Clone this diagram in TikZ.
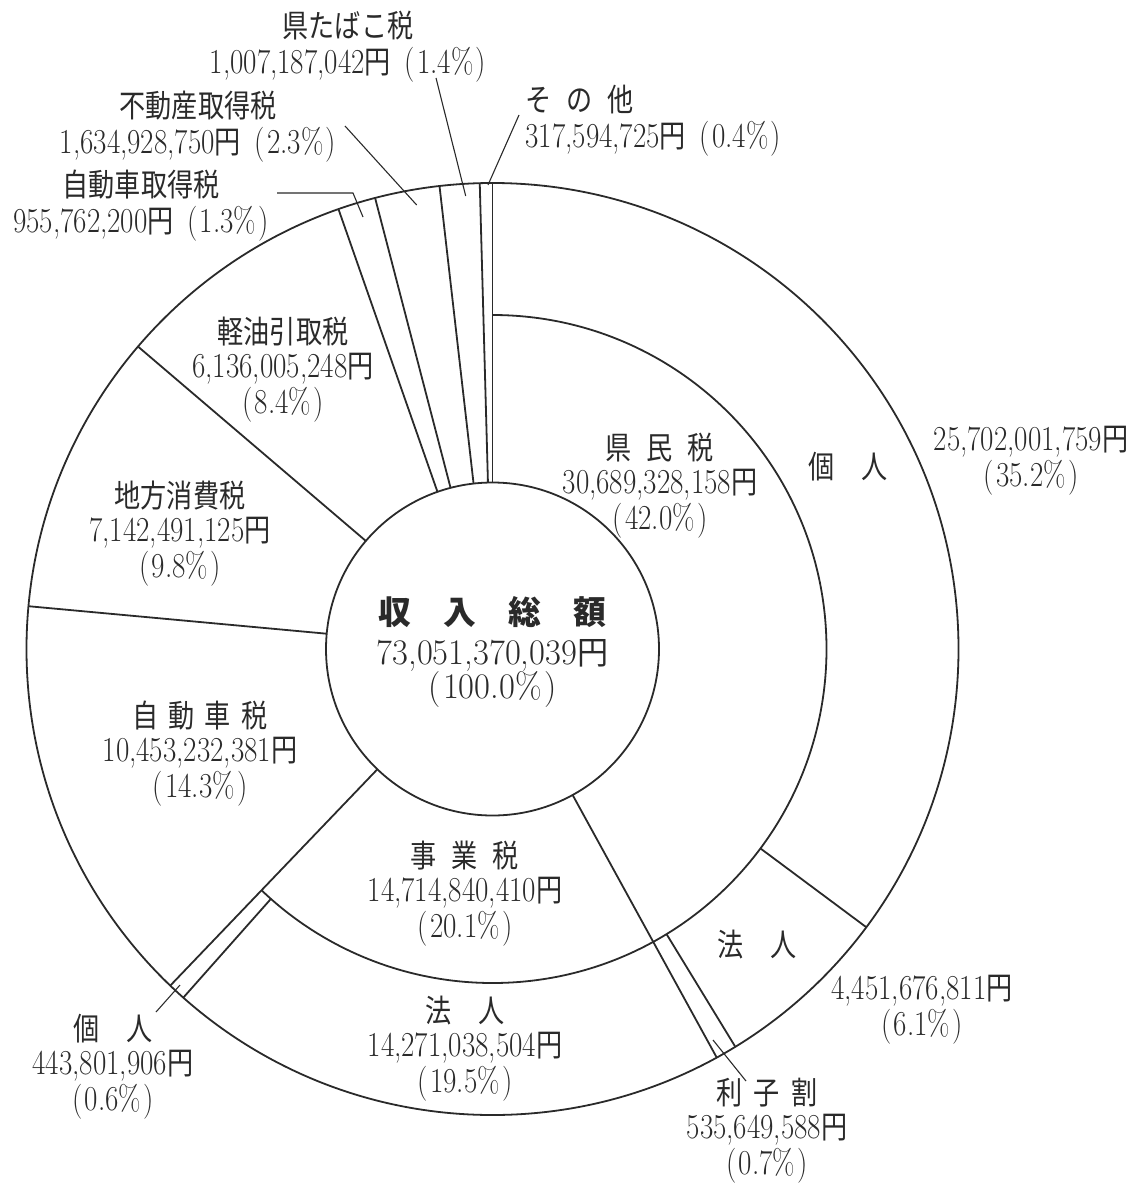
\documentclass[tikz,border=0pt]{standalone}
\usepackage{fontspec}
\usepackage{graphicx}
\newfontfamily\jp{Noto Sans CJK JP}[Scale=0.9]
\newcommand\jt[1]{{\jp #1}}
\newcommand\EN{\jt{円}}
\newcommand\pc[1]{(\hspace{1.5pt}#1\%\hspace{1.5pt})}
\newcommand\lbl[1]{\scalebox{0.83}[1]{\begin{tabular}{@{}c@{}}#1\end{tabular}}}
\newcommand\lbll[1]{\scalebox{0.83}[1]{\begin{tabular}{@{}l@{}}#1\end{tabular}}}
\definecolor{ink}{HTML}{2A2A2A}
\tikzset{
  lab/.style={inner sep=0pt, text=ink, font=\fontsize{17.5}{16.5}\selectfont, yshift=-2pt},
  ring/.style={line width=0.9pt, draw=ink},
  lead/.style={line width=0.55pt, draw=ink},
  ctr/.style={inner sep=0pt, text=ink}
}
\begin{document}
\begin{tikzpicture}[x=0.5pt,y=-0.5pt]
\useasboundingbox (0,0) rectangle (1133,1183);
% rings and slice boundaries
\begin{scope}[shift={(492.5,649)}]
  \draw[ring] (0,0) circle[radius=466];
  \draw[ring] (0,0) circle[radius=166.5];
  \draw[ring] (-90:334) arc[start angle=-90, end angle=133.75, radius=334];
  \foreach \a in {-90,61.24,133.75,185.27,220.47,250.70,255.41,263.47,268.43}
    \draw[ring] (\a:166.5) -- (\a:466);
  \foreach \a in {36.66,58.60,131.57}
    \draw[ring] (\a:334) -- (\a:466);
\end{scope}

% centre
\node[ctr, font=\fontsize{18.2}{20}\selectfont\jp\bfseries] (title) at (492.5,612) {収\hspace{16pt}入\hspace{16pt}総\hspace{16pt}額};
\node[ctr, font=\fontsize{18}{20}\selectfont] (total) at (492.5,655) {\scalebox{0.96}[1]{73,051,370,039\EN}};
\node[ctr, font=\fontsize{18}{20}\selectfont] (totalp) at (492.5,690) {\scalebox{0.96}[1]{\pc{100.0}}};

% inner ring labels
\node[lab] (kenmin) at (660,482) {\lbl{\jt{県\hspace{9pt}民\hspace{9pt}税}\\30,689,328,158\EN\\\pc{42.0}}};
\node[lab] (jigyo) at (465,890) {\lbl{\jt{事\hspace{9pt}業\hspace{9pt}税}\\14,714,840,410\EN\\\pc{20.1}}};
\node[lab] (jidosha) at (200,750) {\lbl{\jt{自\hspace{6pt}動\hspace{6pt}車\hspace{6pt}税}\\10,453,232,381\EN\\\pc{14.3}}};
\node[lab] (chiho) at (180,530) {\lbl{\jt{地方消費税}\\7,142,491,125\EN\\\pc{9.8}}};
\node[lab] (keiyu) at (283,366) {\lbl{\jt{軽油引取税}\\6,136,005,248\EN\\\pc{8.4}}};

% outer ring labels
\node[lab] (kojin1) at (848,466) {\lbl{\jt{個\hspace{16pt}人}}};
\node[lab] (hojin1) at (757,944) {\lbl{\jt{法\hspace{16pt}人}}};
\node[lab] (hojin2) at (465,1045) {\lbl{\jt{法\hspace{16pt}人}\\14,271,038,504\EN\\\pc{19.5}}};

% outside labels
\node[lab] (kojin1v) at (1031,457) {\lbl{25,702,001,759\EN\\\pc{35.2}}};
\node[lab] (hojin1v) at (922,1006) {\lbl{4,451,676,811\EN\\\pc{6.1}}};
\node[lab] (rishi) at (767,1127) {\lbl{\jt{利\hspace{7pt}子\hspace{7pt}割}\\535,649,588\EN\\\pc{0.7}}};
\node[lab] (kojin2) at (113,1063) {\lbl{\jt{個\hspace{16pt}人}\\443,801,906\EN\\\pc{0.6}}};
\node[lab] (jshutoku) at (141,202.5) {\lbl{\jt{自動車取得税}\\955,762,200\EN\hspace{8pt}\pc{1.3}}};
\node[lab] (fudosan) at (198,123.5) {\lbl{\jt{不動産取得税}\\1,634,928,750\EN\hspace{8pt}\pc{2.3}}};
\node[lab] (tabako) at (348,43.5) {\lbl{\jt{県たばこ税}\\1,007,187,042\EN\hspace{8pt}\pc{1.4}}};
\node[lab, anchor=west] (sonota) at (525,117) {\lbll{\jt{そ\hspace{9pt}の\hspace{9pt}他}\\317,594,725\EN\hspace{8pt}\pc{0.4}}};

% leader lines
\coordinate (tbA) at (436,78);   \coordinate (tbB) at (465.7,196);
\coordinate (soA) at (519,115);  \coordinate (soB) at (488,185);
\coordinate (fdA) at (345,126);  \coordinate (fdB) at (416.7,205);
\coordinate (jsA) at (277,193);  \coordinate (jsM) at (353,193); \coordinate (jsB) at (363,217);
\coordinate (riA) at (713,1040); \coordinate (riB) at (746,1081);
\coordinate (koA) at (180,985);  \coordinate (koB) at (156,1012);
\draw[lead] (tbA) -- (tbB);
\draw[lead] (soA) -- (soB);
\draw[lead] (fdA) -- (fdB);
\draw[lead] (jsA) -- (jsM) -- (jsB);
\draw[lead] (riA) -- (riB);
\draw[lead] (koA) -- (koB);
\end{tikzpicture}
\end{document}
